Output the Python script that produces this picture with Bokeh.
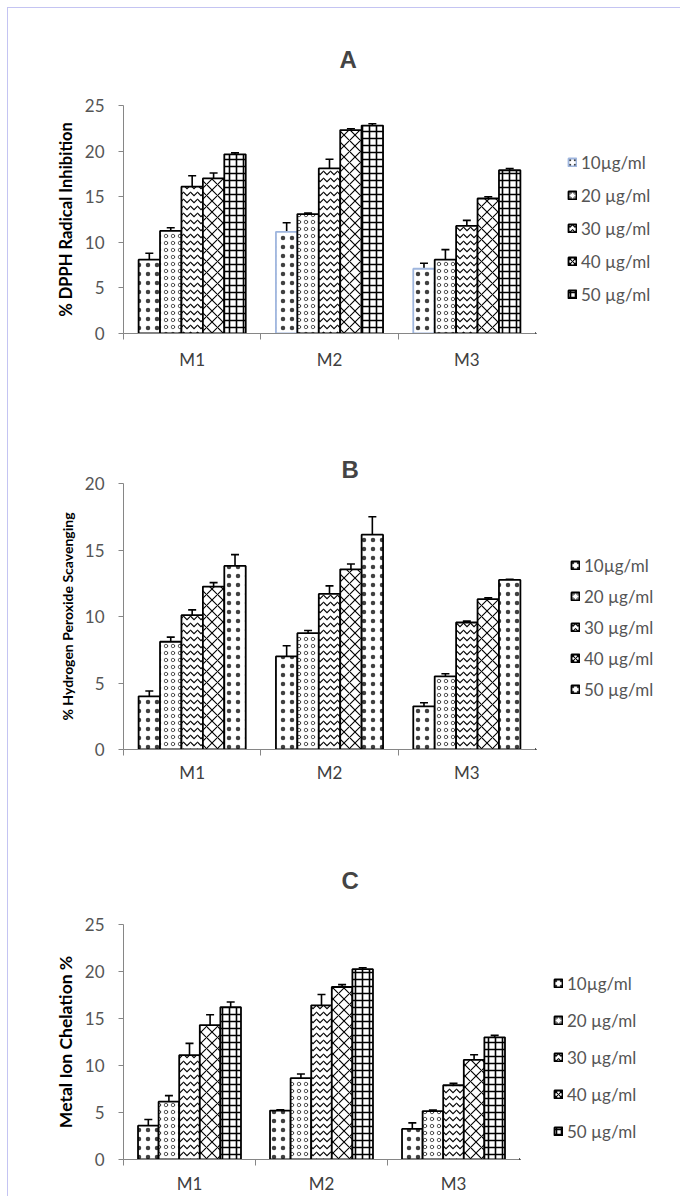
from bokeh.plotting import figure
from bokeh.models import Range1d, FixedTicker, Whisker, TeeHead, ColumnDataSource, Legend, LegendItem
from bokeh.layouts import column, row
from bokeh.embed import file_html
from bokeh.resources import INLINE

# ---------------- data ----------------
categories = ["M1", "M2", "M3"]
concentrations = ["10µg/ml", "20 µg/ml", "30 µg/ml", "40 µg/ml", "50 µg/ml"]

# rows = concentrations, columns = M1, M2, M3
dpph_mean = [
    [8.1, 11.15, 7.1],
    [11.25, 13.1, 8.1],
    [16.1, 18.1, 11.8],
    [17.0, 22.3, 14.8],
    [19.65, 22.8, 17.9],
]
dpph_err = [
    [0.7, 1.0, 0.6],
    [0.35, 0.1, 1.1],
    [1.2, 1.0, 0.6],
    [0.6, 0.15, 0.2],
    [0.15, 0.2, 0.2],
]

h2o2_mean = [
    [4.0, 7.0, 3.25],
    [8.1, 8.75, 5.5],
    [10.1, 11.7, 9.55],
    [12.25, 13.55, 11.3],
    [13.8, 16.15, 12.75],
]
h2o2_err = [
    [0.4, 0.8, 0.27],
    [0.35, 0.2, 0.2],
    [0.4, 0.6, 0.1],
    [0.3, 0.4, 0.1],
    [0.85, 1.35, 0.05],
]

chel_mean = [
    [3.6, 5.2, 3.25],
    [6.15, 8.65, 5.15],
    [11.1, 16.4, 7.9],
    [14.3, 18.35, 10.6],
    [16.2, 20.25, 13.0],
]
chel_err = [
    [0.65, 0.1, 0.65],
    [0.65, 0.45, 0.1],
    [1.25, 1.15, 0.2],
    [1.1, 0.25, 0.55],
    [0.55, 0.15, 0.2],
]

yticks_a = [0, 5, 10, 15, 20, 25]
yticks_b = [0, 5, 10, 15, 20]
yticks_c = [0, 5, 10, 15, 20, 25]

# ---------------- styles ----------------
P_DOT = ("dot", 9, 0.6, 0.75)
P_CONF = ("ring", 7, 0.7, 0.9)
P_WAVE = ("horizontal_wave", 7, 1.1, 1.0)
P_WEAVE = ("diagonal_cross", 11, 1.1, 1.0)
P_BRICK = ("cross", 7, 1.6, 1.0)

BAR_W = 0.156
AXIS_C = "#868686"
TXT_C = "#555555"
FONT = "Lato"
TOTAL_W = 672
LEFT = 115
BLUE = "#9fb6de"


def make_panel(title, ylabel, ylabel_size, means, errs, ymax, yticks, patterns, frame_w,
               border_top, frame_h, height, title_standoff, title_offset, xlabel_standoff,
               legend_margin, legend_drop, legend_spacing, blue_first=False):
    main_w = LEFT + frame_w
    p = figure(width=main_w, height=height, output_backend="svg", toolbar_location=None,
               x_range=Range1d(0.5, 3.5), y_range=Range1d(0, ymax),
               min_border_left=LEFT, min_border_right=0,
               min_border_top=border_top, min_border_bottom=height - border_top - frame_h,
               title=title)
    p.title.text_font = "Liberation Sans"
    p.title.text_font_style = "bold"
    p.title.text_font_size = "24px"
    p.title.align = "left"
    p.title.offset = title_offset
    p.title.standoff = title_standoff
    p.outline_line_color = None
    p.xgrid.visible = False
    p.ygrid.visible = False

    # legend holder figure (frame is aligned with the main figure's frame)
    q = figure(width=TOTAL_W - main_w, height=height, output_backend="svg",
               toolbar_location=None, x_axis_location=None, y_axis_location=None,
               x_range=Range1d(1, 2), y_range=Range1d(1, 2), min_border=0)
    q.outline_line_color = None
    q.xgrid.visible = False
    q.ygrid.visible = False

    items = []
    for j, conc in enumerate(concentrations):
        xs = [i + 1 + (j - 2) * BAR_W for i in range(len(categories))]
        src = ColumnDataSource(dict(x=xs, top=means[j],
                                    upper=[m + e for m, e in zip(means[j], errs[j])],
                                    lower=[m - e for m, e in zip(means[j], errs[j])]))
        pat, sc, wt, ha = patterns[j]
        if blue_first and j == 0:
            lc = ["black"] + [BLUE] * (len(categories) - 1)
        else:
            lc = ["black"] * len(categories)
        src.data["lc"] = lc
        p.vbar(x="x", top="top", width=BAR_W, source=src, fill_color="white",
               line_color="lc", line_width=1.8, hatch_pattern=pat, hatch_scale=sc,
               hatch_weight=wt, hatch_color="black", hatch_alpha=ha)
        w = Whisker(source=src, base="x", upper="upper", lower="lower", line_color="black",
                    line_width=1.6,
                    upper_head=TeeHead(size=8, line_width=1.6, line_color="black"),
                    lower_head=TeeHead(size=8, line_width=1.6, line_color="black"))
        p.add_layout(w)

        # swatch renderer for the legend (its single point lies outside the holder's ranges)
        leg_lc = BLUE if (blue_first and j == 0) else "black"
        lr = q.vbar(x=[0], top=[0], width=0, fill_color="white", line_color=leg_lc,
                    line_width=1.8, hatch_pattern=pat, hatch_scale=min(sc, 5),
                    hatch_weight=wt, hatch_color="black", hatch_alpha=ha)
        items.append(LegendItem(label=conc, renderers=[lr]))

    leg = Legend(items=items, location="top_left", orientation="vertical",
                 glyph_width=10, glyph_height=10, label_height=22, spacing=legend_spacing,
                 padding=0, margin=legend_margin, border_line_color=None,
                 background_fill_alpha=0,
                 title=" ", title_text_font_size="1px", title_standoff=legend_drop,
                 label_text_font=FONT, label_text_font_size="17px",
                 label_text_color=TXT_C, label_standoff=4)
    q.add_layout(leg, "center")

    # y axis
    ya = p.yaxis[0]
    ya.ticker = FixedTicker(ticks=yticks)
    ya.axis_line_color = AXIS_C
    ya.major_tick_line_color = AXIS_C
    ya.major_tick_out = 5
    ya.major_tick_in = 0
    ya.minor_tick_line_color = None
    ya.major_label_standoff = 14
    ya.major_label_text_font = FONT
    ya.major_label_text_font_size = "17px"
    ya.major_label_text_color = TXT_C
    ya.axis_label = ylabel
    ya.axis_label_text_font = FONT
    ya.axis_label_text_font_style = "bold"
    ya.axis_label_text_font_size = ylabel_size
    ya.axis_label_text_color = "black"
    ya.axis_label_standoff = 6

    # x axis
    xa = p.xaxis[0]
    xa.ticker = FixedTicker(ticks=[1, 2, 3], minor_ticks=[0.5, 1.5, 2.5, 3.5])
    xa.major_label_overrides = {i + 1: c for i, c in enumerate(categories)}
    xa.axis_line_color = AXIS_C
    xa.major_tick_line_color = None
    xa.major_tick_out = 0
    xa.major_tick_in = 0
    xa.minor_tick_line_color = AXIS_C
    xa.minor_tick_out = 6
    xa.minor_tick_in = 0
    xa.major_label_standoff = xlabel_standoff
    xa.major_label_text_font = FONT
    xa.major_label_text_font_size = "17px"
    xa.major_label_text_color = "#404040"
    return row(p, q, spacing=0)


pA = make_panel("A", "% DPPH Radical Inhibition", "16.5px", dpph_mean, dpph_err, 25, yticks_a,
                [P_DOT, P_CONF, P_WAVE, P_WEAVE, P_BRICK], 412, 97, 228, 410,
                66, 216, 9, 32, 13, 11, blue_first=True)
pB = make_panel("B", "% Hydrogen Peroxide Scavenging", "14px", h2o2_mean, h2o2_err, 20,
                yticks_b, [P_DOT, P_CONF, P_WAVE, P_WEAVE, P_DOT], 412, 65, 266, 410,
                2, 218, 6, 35, 35, 9)
pC = make_panel("C", "Metal Ion Chelation %", "17.5px", chel_mean, chel_err, 25, yticks_c,
                [P_DOT, P_CONF, P_WAVE, P_WEAVE, P_BRICK], 396, 96, 238, 368,
                61, 218, 7, 34, 13, 15)

layout = column(pA, pB, pC, spacing=0,
                styles={"margin-top": "7px", "margin-left": "7px",
                        "border-top": "1px solid #c4c4f2", "border-left": "1px solid #c4c4f2"})

open("out.html", "w").write(file_html(layout, INLINE))
